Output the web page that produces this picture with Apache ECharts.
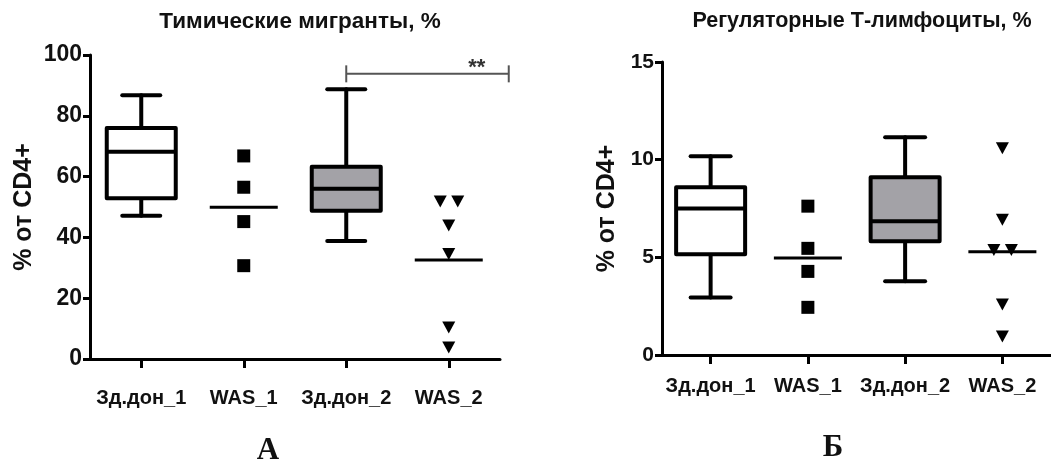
<!DOCTYPE html>
<html>
<head>
<meta charset="utf-8">
<script src="https://cdn.jsdelivr.net/npm/echarts@6/dist/echarts.min.js"></script>
<style>
  html, body { margin: 0; padding: 0; background: #fff; }
  #chart { width: 1051px; height: 471px; }
</style>
</head>
<body>
<div id="chart"></div>
<script>
// категории по оси X (одинаковые для обоих графиков)
const categories = ['Зд.дон_1', 'WAS_1', 'Зд.дон_2', 'WAS_2']

// А: тимические мигранты, % от CD4+
// box: [min, Q1, median, Q3, max]
const thymBox1 = [47.1, 52.9, 68.2, 76.0, 86.8]
const thymBox2 = [38.8, 48.8, 56.0, 63.2, 88.7]
const thymWas1 = [66.8, 56.5, 45.2, 30.7]
const thymWas1Mean = 49.9
const thymWas2 = [51.8, 51.8, 43.9, 34.5, 10.4, 3.8]
const thymWas2Mean = 32.6
const thymTicks = [0, 100, 20]   // min, max, interval
const thymSignif = [2, 3, 93.8]  // от группы, до группы, уровень

// Б: регуляторные Т-лимфоциты, % от CD4+
const tregBox1 = [2.95, 5.16, 7.5, 8.59, 10.17]
const tregBox2 = [3.77, 5.82, 6.85, 9.1, 11.15]
const tregWas1 = [7.62, 5.46, 4.28, 2.44]
const tregWas1Mean = 4.97
const tregWas2 = [10.59, 6.92, 5.38, 5.38, 2.58, 0.95]
const tregWas2Mean = 5.28
const tregTicks = [0, 15, 5]

const SANS = 'Liberation Sans, Arial, sans-serif'
const SERIF = 'Liberation Serif, Times New Roman, serif'
const INK = '#111'
const BOX_W = 69
const MEAN_W = 68

// разводим совпадающие точки в стороны, как в GraphPad
function dodge (cat, vals) {
  return vals.map((v, i) => {
    const ties = vals.filter(w => w === v).length
    if (ties < 2) return { value: [cat, v] }
    const k = vals.slice(0, i).filter(w => w === v).length
    return { value: [cat, v], symbolOffset: [k === 0 ? -8.5 : 9, 0] }
  })
}

function boxRenderer (fills, capW) {
  return function (params, api) {
    const c = api.value(0)
    const pMin = api.coord([c, api.value(1)])
    const pQ1 = api.coord([c, api.value(2)])
    const pMed = api.coord([c, api.value(3)])
    const pQ3 = api.coord([c, api.value(4)])
    const pMax = api.coord([c, api.value(5)])
    const x = pMin[0]
    const hw = BOX_W / 2
    const cw = capW / 2
    const line = (x1, y1, x2, y2, cap) => ({
      type: 'line',
      shape: { x1, y1, x2, y2 },
      style: { stroke: '#000', lineWidth: 4, lineCap: cap || 'round' }
    })
    return {
      type: 'group',
      children: [
        line(x, pMax[1], x, pQ3[1]),
        line(x, pQ1[1], x, pMin[1]),
        line(x - cw, pMax[1], x + cw, pMax[1]),
        line(x - cw, pMin[1], x + cw, pMin[1]),
        {
          type: 'rect',
          shape: { x: x - hw, y: pQ3[1], width: BOX_W, height: pQ1[1] - pQ3[1] },
          style: { fill: fills[params.dataIndex], stroke: '#000', lineWidth: 4, lineJoin: 'round' }
        },
        line(x - hw, pMed[1], x + hw, pMed[1], 'butt')
      ]
    }
  }
}

function meanRenderer (params, api) {
  const p = api.coord([api.value(0), api.value(1)])
  return {
    type: 'line',
    shape: { x1: p[0] - MEAN_W / 2, y1: p[1], x2: p[0] + MEAN_W / 2, y2: p[1] },
    style: { stroke: '#000', lineWidth: 3 }
  }
}

function bracketRenderer (params, api) {
  const a = api.coord([api.value(0), api.value(2)])
  const b = api.coord([api.value(1), api.value(2)])
  const x2 = b[0] + 60
  const st = { stroke: '#555', lineWidth: 2 }
  return {
    type: 'group',
    children: [
      { type: 'line', shape: { x1: a[0], y1: a[1], x2: x2, y2: a[1] }, style: st },
      { type: 'line', shape: { x1: a[0], y1: a[1] - 8.5, x2: a[0], y2: a[1] + 8.5 }, style: st },
      { type: 'line', shape: { x1: x2, y1: a[1] - 8.5, x2: x2, y2: a[1] + 8.5 }, style: st },
      {
        type: 'text',
        style: {
          x: b[0] + 28, y: a[1] - 6, text: '**', fill: '#333',
          font: 'bold 22px ' + SANS, align: 'center', verticalAlign: 'middle'
        }
      }
    ]
  }
}

function xAxisFor (gridIndex, margin) {
  return {
    type: 'category',
    gridIndex,
    data: categories,
    boundaryGap: true,
    axisLine: { lineStyle: { color: '#000', width: 3 } },
    axisTick: { show: true, interval: 0, alignWithLabel: true, length: 9, lineStyle: { color: '#000', width: 3 } },
    axisLabel: { interval: 0, margin, color: INK, fontSize: 20, fontWeight: 'bold', fontFamily: SANS },
    splitLine: { show: false }
  }
}

function yAxisFor (gridIndex, ticks, fontSize, nameGap) {
  return {
    type: 'value',
    gridIndex,
    min: ticks[0],
    max: ticks[1],
    interval: ticks[2],
    name: '% от CD4+',
    nameLocation: 'middle',
    nameRotate: 90,
    nameGap,
    nameTextStyle: { color: INK, fontSize: 25, fontWeight: 'bold', fontFamily: SANS },
    axisLine: { show: true, lineStyle: { color: '#000', width: 3 } },
    axisTick: { show: true, length: 7, lineStyle: { color: '#000', width: 3 } },
    axisLabel: { margin: 8, color: INK, fontSize, fontWeight: 'bold', fontFamily: SANS },
    splitLine: { show: false }
  }
}

const squareStyle = { symbol: 'rect', symbolSize: 13, itemStyle: { color: '#000', opacity: 1 } }
const triStyle = { symbol: 'triangle', symbolSize: [13, 12], symbolRotate: 180, itemStyle: { color: '#000', opacity: 1 } }
const boxFills = ['#ffffff', '#a3a2a7']

const option = {
  animation: false,
  backgroundColor: '#fff',
  title: [
    { text: 'Тимические мигранты, %', left: 295, top: 5, textAlign: 'center',
      textStyle: { color: INK, fontSize: 22.5, fontWeight: 'bold', fontFamily: SANS } },
    { text: 'Регуляторные Т-лимфоциты, %', left: 857, top: 5, textAlign: 'center',
      textStyle: { color: INK, fontSize: 21.5, fontWeight: 'bold', fontFamily: SANS } },
    { text: 'А', left: 263, top: 430, textAlign: 'center',
      textStyle: { color: INK, fontSize: 31, fontWeight: 'bold', fontFamily: SERIF } },
    { text: 'Б', left: 828, top: 427, textAlign: 'center',
      textStyle: { color: INK, fontSize: 31, fontWeight: 'bold', fontFamily: SERIF } }
  ],
  grid: [
    { left: 90, top: 55, width: 410, height: 304 },
    { left: 662, top: 62, width: 392, height: 293 }
  ],
  xAxis: [xAxisFor(0, 29), xAxisFor(1, 21)],
  yAxis: [yAxisFor(0, thymTicks, 23, 53), yAxisFor(1, tregTicks, 21, 42)],
  series: [
    {
      type: 'custom', xAxisIndex: 0, yAxisIndex: 0,
      renderItem: boxRenderer(boxFills, 38),
      encode: { x: 0, y: [1, 2, 3, 4, 5] },
      data: [[0, ...thymBox1], [2, ...thymBox2]]
    },
    { type: 'scatter', xAxisIndex: 0, yAxisIndex: 0, ...squareStyle, data: dodge(1, thymWas1) },
    { type: 'scatter', xAxisIndex: 0, yAxisIndex: 0, ...triStyle, data: dodge(3, thymWas2) },
    {
      type: 'custom', xAxisIndex: 0, yAxisIndex: 0, renderItem: meanRenderer,
      encode: { x: 0, y: 1 },
      data: [[1, thymWas1Mean], [3, thymWas2Mean]]
    },
    {
      type: 'custom', xAxisIndex: 0, yAxisIndex: 0, renderItem: bracketRenderer,
      encode: { x: 0, y: 2 },
      data: [thymSignif]
    },
    {
      type: 'custom', xAxisIndex: 1, yAxisIndex: 1,
      renderItem: boxRenderer(boxFills, 40),
      encode: { x: 0, y: [1, 2, 3, 4, 5] },
      data: [[0, ...tregBox1], [2, ...tregBox2]]
    },
    { type: 'scatter', xAxisIndex: 1, yAxisIndex: 1, ...squareStyle, data: dodge(1, tregWas1) },
    { type: 'scatter', xAxisIndex: 1, yAxisIndex: 1, ...triStyle, data: dodge(3, tregWas2) },
    {
      type: 'custom', xAxisIndex: 1, yAxisIndex: 1, renderItem: meanRenderer,
      encode: { x: 0, y: 1 },
      data: [[1, tregWas1Mean], [3, tregWas2Mean]]
    }
  ]
}

const chart = echarts.init(document.getElementById('chart'))
chart.setOption(option)
</script>
</body>
</html>
